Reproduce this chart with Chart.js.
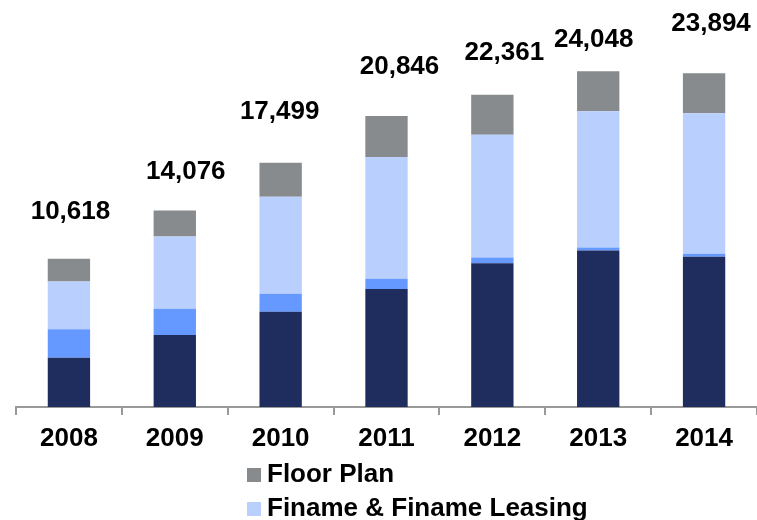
<!DOCTYPE html>
<html>
<head>
<meta charset="utf-8">
<title>Portfolio by product</title>
<script src="https://cdn.jsdelivr.net/npm/chart.js@4/dist/chart.umd.min.js"></script>
<style>
  html, body { margin: 0; padding: 0; background: #fff; overflow: hidden; }
  body { width: 757px; height: 520px; position: relative; font-family: "Liberation Sans", Arial, sans-serif; }
  #chartBox { position: absolute; left: 0; top: 0; width: 757px; height: 460px; }
  #legend { position: absolute; left: 247px; top: 458px; }
  .leg-item { display: flex; align-items: center; height: 34px; font-weight: bold; font-size: 26px; color: #000; }
  .leg-item span.txt { position: relative; top: -2px; }
  .leg-box { width: 14px; height: 14px; margin-right: 6px; }
</style>
</head>
<body>
<div id="chartBox"><canvas id="chart"></canvas></div>
<div id="legend"></div>
<script>
/* ---------- Data ---------- */
const years = ['2008', '2009', '2010', '2011', '2012', '2013', '2014'];
const retail   = [3520, 5163, 6826, 8450, 10300, 11210, 10762];
const leasing  = [2049, 1864, 1289,  740,   400,   215,   215];
const finame   = [3427, 5185, 6948, 8710,  8795,  9754, 10053];
const floorPlan = [1622, 1864, 2436, 2946,  2866,  2869,  2864];

// hand-placed total labels in the original: nudge from bar top (px)
const labelShiftX = [1.5, 11, -1, 13, 12, -4.5, 7];
const labelShiftY = [46.6, 39, 51, 48.7, 41.7, 31.7, 49.3];

const FONT = '"Liberation Sans", Arial, sans-serif';
const series = [
  { label: 'CDC',                     data: retail,    color: '#1f2d5e' },
  { label: 'Leasing',                 data: leasing,   color: '#6699ff' },
  { label: 'Finame & Finame Leasing', data: finame,    color: '#b9cffd' },
  { label: 'Floor Plan',              data: floorPlan, color: '#878b8d' }
];
// only these two legend rows are visible in the original crop
const legendShown = ['Floor Plan', 'Finame & Finame Leasing'];

/* ---------- Totals above bars ---------- */
const totalsPlugin = {
  id: 'totals',
  afterDatasetsDraw(chart) {
    const { ctx, scales: { x, y } } = chart;
    ctx.save();
    ctx.font = `bold 26px ${FONT}`;
    ctx.fillStyle = '#000';
    ctx.textAlign = 'center';
    ctx.textBaseline = 'middle';
    years.forEach((yr, i) => {
      const total = series.reduce((s, d) => s + d.data[i], 0);
      const px = x.getPixelForValue(i) + labelShiftX[i];
      const py = y.getPixelForValue(total) - labelShiftY[i];
      ctx.fillText(total.toLocaleString('en-US'), px, py);
    });
    ctx.restore();
  }
};

/* ---------- Chart ---------- */
new Chart(document.getElementById('chart'), {
  type: 'bar',
  data: {
    labels: years,
    datasets: series.map(s => ({
      label: s.label,
      data: s.data,
      backgroundColor: s.color,
      borderWidth: 0,
      categoryPercentage: 1,
      barPercentage: 0.4
    }))
  },
  options: {
    responsive: true,
    maintainAspectRatio: false,
    animation: false,
    layout: { padding: { left: 16, right: 0, top: 16, bottom: 0 } },
    plugins: { legend: { display: false }, tooltip: { enabled: false } },
    scales: {
      x: {
        stacked: true,
        border: { display: true, color: '#999', width: 2 },
        grid: { display: true, drawOnChartArea: false, drawTicks: true, tickLength: 8, color: '#999', lineWidth: 2 },
        ticks: { color: '#000', font: { family: FONT, size: 26, weight: 'bold' }, padding: 8, maxRotation: 0 },
        afterFit(axis) { axis.height = 53; }
      },
      y: { stacked: true, display: false, min: 0, max: 28000 }
    }
  },
  plugins: [totalsPlugin]
});

/* ---------- Legend ---------- */
const legendEl = document.getElementById('legend');
legendShown.forEach(name => {
  const s = series.find(d => d.label === name);
  const row = document.createElement('div');
  row.className = 'leg-item';
  row.innerHTML = `<span class="leg-box" style="background:${s.color}"></span><span class="txt">${s.label}</span>`;
  legendEl.appendChild(row);
});
</script>
</body>
</html>
